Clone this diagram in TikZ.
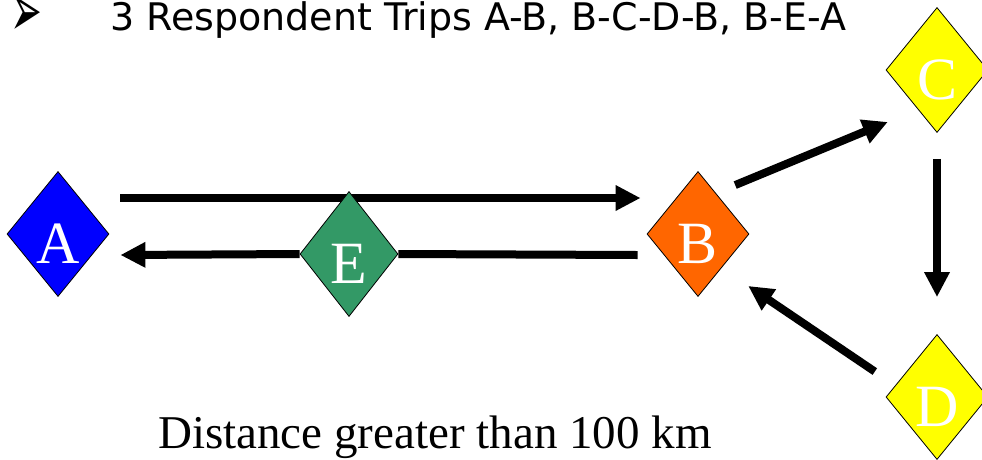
\documentclass[tikz,border=0pt]{standalone}
\usepackage{fontspec}
\usepackage{graphicx}
\setmainfont{Liberation Serif}
\newfontfamily\headfont{DejaVu Sans}
\newfontfamily\symbfont{DejaVu Sans}
\usepackage{xcolor}
\usetikzlibrary{calc, positioning, arrows.meta, shapes.geometric}
\pgfdeclarelayer{bg}
\pgfsetlayers{bg,main}
\definecolor{azul}{RGB}{0,0,255}
\definecolor{naranja}{RGB}{255,102,0}
\definecolor{verde}{RGB}{51,153,102}
\definecolor{amarillo}{RGB}{255,255,0}

\begin{document}
\begin{tikzpicture}[x=1pt, y=-1pt,
	place/.style={diamond, draw=black, line width=0.8pt, inner sep=0pt,
		minimum width=102pt, minimum height=125pt, text=white,
		text height=58pt, text depth=0pt, font=\fontsize{60}{60}\selectfont},
	trip/.style={line width=8pt},
	triparrow/.style={trip, -{Triangle[length=25pt, width=24pt]}}]
	\useasboundingbox (0,0) rectangle (982,459);
	% textos %
	\node[anchor=base west, inner sep=0pt, font=\symbfont\fontsize{38}{38}\selectfont] (bullet) at (10,36) {\smash{\scalebox{1}[2]{➢}}};
	\node[anchor=base west, inner sep=0pt, font=\headfont\fontsize{38}{38}\selectfont] (trips) at (110,30) {3 Respondent Trips A-B, B-C-D-B, B-E-A};
	\node[anchor=base west, inner sep=0pt, font=\fontsize{47}{47}\selectfont] (dist) at (158,448) {Distance greater than 100 km};
	% nodos %
	\node[place, fill=azul] (A) at (58,234) {A};
	\node[place, fill=naranja] (B) at (698,234) {B};
	\node[place, fill=amarillo] (C) at (937,70) {C};
	\node[place, fill=amarillo] (D) at (937,397) {D};
	\node[place, fill=verde, minimum width=98pt] (E) at (349,254) {E};
	% conexiones %
	\begin{pgfonlayer}{bg}
		\draw[triparrow] ([xshift=11pt, yshift=36pt]A.east) -- ([xshift=-6pt, yshift=36pt]B.west);
		\draw[triparrow] ([xshift=11.5pt, yshift=17.5pt]B.north east) -- ([xshift=-23.5pt, yshift=-20.5pt]C.south west);
		\draw[triparrow] ([yshift=-26pt]C.south) -- ([yshift=37pt]D.north);
		\draw[triparrow] ([xshift=-36.5pt, yshift=-6pt]D.north west) -- ([xshift=24.5pt, yshift=-20.5pt]B.south east);
		\draw[trip] ([xshift=-9pt, yshift=-21pt]B.west) -- (E.east);
		\draw[triparrow] (E.west) -- ([xshift=11pt, yshift=-21pt]A.east);
	\end{pgfonlayer}
\end{tikzpicture}
\end{document}
